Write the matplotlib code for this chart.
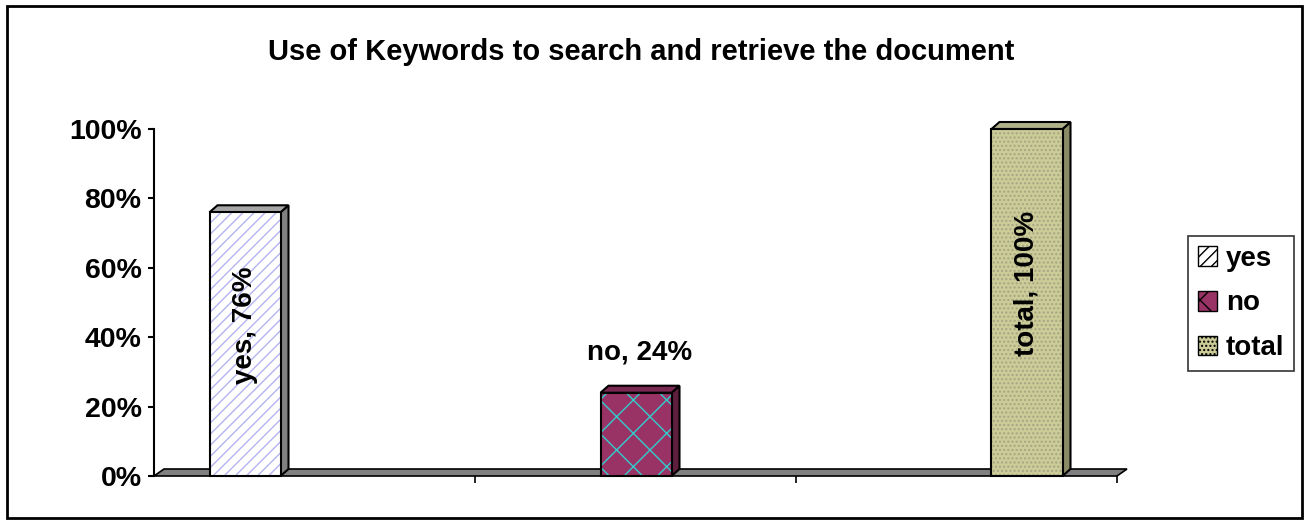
import matplotlib
matplotlib.use("Agg")
import matplotlib.pyplot as plt
from matplotlib.patches import Polygon, Rectangle, Patch
from matplotlib.ticker import PercentFormatter

# ---- data ----
categories = ["yes", "no", "total"]
values = [0.76, 0.24, 1.00]
label_texts = ["yes, 76%", "no, 24%", "total, 100%"]
yticks = [0.0, 0.2, 0.4, 0.6, 0.8, 1.0]
title = "Use of Keywords to search and retrieve the document"

# ---- styles ----
face_colors = ["#FFFFFF", "#993366", "#CCCC99"]
hatch_colors = ["#B4B4F0", "#33CCCC", "#A5A583"]
hatches = ["///", "x", "...."]
side_colors = ["#808080", "#5E1F3F", "#8A8A66"]
top_colors = ["#A6A6A6", "#7A2A52", "#B0B08A"]

plt.rcParams['font.family'] = ['Liberation Sans', 'DejaVu Sans']
plt.rcParams['font.weight'] = 'bold'
plt.rcParams['hatch.linewidth'] = 1.0

W, H = 1309, 523
fig = plt.figure(figsize=(W / 100, H / 100), dpi=100)
ax_left, ax_right = 154, 1117
ax_top, ax_bot = 129, 476
ax = fig.add_axes([ax_left / W, 1 - ax_bot / H, (ax_right - ax_left) / W, (ax_bot - ax_top) / H])

spacing_px = 391.0
xmin = -(245 - ax_left) / spacing_px
xmax = 2 + (ax_right - 1027) / spacing_px
xr = xmax - xmin
ax.set_xlim(xmin, xmax)
ax.set_ylim(0, 1)

px_x = xr / (ax_right - ax_left)
px_y = 1.0 / (ax_bot - ax_top)
dx, dy = 8 * px_x, 7 * px_y
bw = 71 * px_x

# floor
fdx, fdy = 10 * px_x, 7 * px_y
ax.add_patch(Polygon([(xmin, 0), (xmax, 0), (xmax + fdx, fdy), (xmin + fdx, fdy)],
                     closed=True, facecolor="#808080", edgecolor="black", lw=1.2,
                     clip_on=False, zorder=2))

xs = list(range(len(values)))
for i, (x, v) in enumerate(zip(xs, values)):
    x0, x1 = x - bw / 2, x + bw / 2
    # side face
    ax.add_patch(Polygon([(x1, 0), (x1 + dx, dy), (x1 + dx, v + dy), (x1, v)], closed=True,
                         facecolor=side_colors[i], edgecolor="black", lw=1.5, clip_on=False, zorder=3))
    # top face
    ax.add_patch(Polygon([(x0, v), (x1, v), (x1 + dx, v + dy), (x0 + dx, v + dy)], closed=True,
                         facecolor=top_colors[i], edgecolor="black", lw=1.5, clip_on=False, zorder=3))
    # front face with hatch
    ax.bar(x, v, width=bw, color=face_colors[i], edgecolor=hatch_colors[i], hatch=hatches[i],
           lw=0, zorder=4, clip_on=False)
    ax.bar(x, v, width=bw, fill=False, edgecolor="black", lw=1.5, zorder=5, clip_on=False)

# data labels
for i, (x, v) in enumerate(zip(xs, values)):
    if v > 0.5:
        ax.text(x, v / 2 + 0.055, label_texts[i], rotation=90, ha="center", va="center",
                fontsize=20, fontweight="bold", zorder=6)
    else:
        ax.text(x + 0.01, v + 0.117, label_texts[i], ha="center", va="center",
                fontsize=20, fontweight="bold", zorder=6)

# axes styling
for s in ["top", "right"]:
    ax.spines[s].set_visible(False)
ax.spines["bottom"].set_visible(False)
ax.spines["left"].set_linewidth(1.5)
ax.set_yticks(yticks)
ax.yaxis.set_major_formatter(PercentFormatter(1.0, decimals=0))
ax.tick_params(axis="y", direction="out", length=4, width=1.5, pad=5, labelsize=20.5)
for lab in ax.get_yticklabels():
    lab.set_fontweight("bold")
ax.set_xticks([xmin + k * xr / 3 for k in range(1, 4)])
ax.set_xticklabels([])
ax.tick_params(axis="x", direction="out", length=5, width=1.2)

# title
fig.text(641.5 / W, 1 - 52 / H, title, ha="center", va="center", fontsize=21, fontweight="bold")

# legend
handles = [Patch(facecolor=face_colors[i], edgecolor=hatch_colors[i], hatch=hatches[i], lw=0)
           for i in range(len(categories))]
leg = fig.legend(handles, categories, loc="center", bbox_to_anchor=(1241 / W, 1 - 303.5 / H),
                 bbox_transform=fig.transFigure, fontsize=20, frameon=True, fancybox=False,
                 handlelength=0.7, handleheight=0.7, handletextpad=0.3, labelspacing=0.68,
                 borderpad=0.35, borderaxespad=0)
leg.get_frame().set_edgecolor("black")
leg.get_frame().set_linewidth(1.2)
for t in leg.get_texts():
    t.set_fontweight("bold")
for h in leg.legend_handles:
    h.set_edgecolor("black")
    h.set_linewidth(1.0)

# outer border
fig.patches.append(Rectangle((7 / W, 1 - 518 / H), (1302 - 7) / W, (518 - 6) / H,
                             transform=fig.transFigure, fill=False, edgecolor="black", lw=2))

fig.savefig("out.png", dpi=100)
